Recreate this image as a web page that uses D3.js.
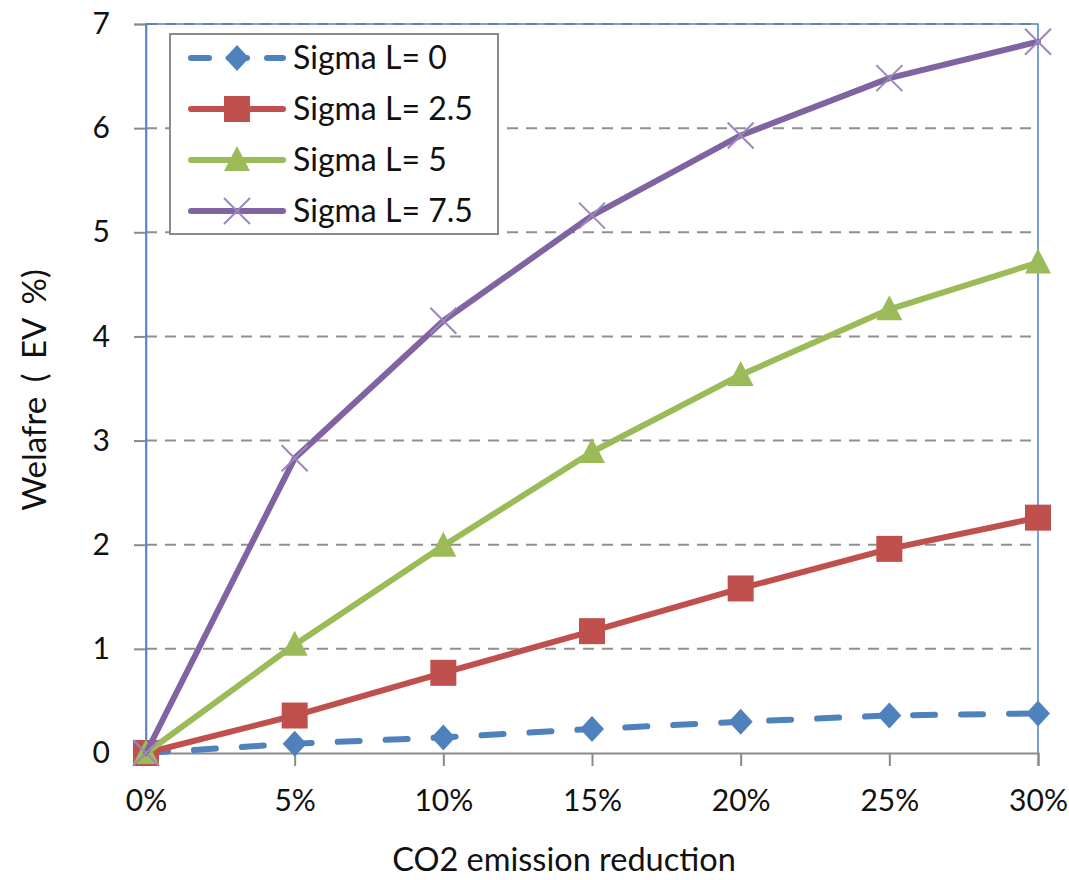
<!DOCTYPE html>
<html>
<head>
<meta charset="utf-8">
<script src="https://cdn.jsdelivr.net/npm/d3@7"></script>
<style>
  html, body { margin: 0; padding: 0; background: #fff; }
  svg { display: block; }
  text { font-family: Lato, "Noto Sans", sans-serif; fill: #111; }
</style>
</head>
<body>
<svg id="chart" width="1069" height="880"></svg>
<script>
// CO2 reduction levels on the x axis
const categories = ["0%", "5%", "10%", "15%", "20%", "25%", "30%"];
const yTicks = [0, 1, 2, 3, 4, 5, 6, 7];

// Welfare change (EV %) for each labour-supply elasticity
const sigma0   = [0, 0.09, 0.15, 0.23, 0.30, 0.36, 0.38];
const sigma2_5 = [0, 0.36, 0.77, 1.17, 1.58, 1.96, 2.26];
const sigma5   = [0, 1.04, 1.99, 2.89, 3.63, 4.26, 4.71];
const sigma7_5 = [0, 2.83, 4.15, 5.16, 5.93, 6.48, 6.83];

const seriesNames = ["Sigma L= 0", "Sigma L= 2.5", "Sigma L= 5", "Sigma L= 7.5"];

const series = [
  { name: seriesNames[0], values: sigma0,   color: "#4f81bd", marker: "diamond",  dashed: true },
  { name: seriesNames[1], values: sigma2_5, color: "#c0504d", marker: "square" },
  { name: seriesNames[2], values: sigma5,   color: "#9bbb59", marker: "triangle" },
  { name: seriesNames[3], values: sigma7_5, color: "#8064a2", marker: "cross" }
];

const svg = d3.select("#chart");
const plot = { left: 146, right: 1038, top: 24, bottom: 753 };

const x = d3.scalePoint().domain(categories).range([plot.left, plot.right]);
const y = d3.scaleLinear().domain([0, 7]).range([plot.bottom, plot.top]);

// horizontal dashed gridlines
svg.append("g")
  .selectAll("line")
  .data(yTicks.filter(d => d > 0))
  .join("line")
  .attr("x1", plot.left).attr("x2", plot.right)
  .attr("y1", d => y(d)).attr("y2", d => y(d))
  .attr("stroke", "#8f8f8f")
  .attr("stroke-width", 2)
  .attr("stroke-dasharray", "11,8");

// plot area border (left, top, right)
svg.append("path")
  .attr("d", `M${plot.left},${plot.bottom}V${plot.top}H${plot.right}V${plot.bottom}`)
  .attr("fill", "none")
  .attr("stroke", "#4f81bd")
  .attr("stroke-width", 1.5);

// y axis
const yAxis = svg.append("g")
  .attr("transform", `translate(${plot.left},0)`)
  .call(d3.axisLeft(y).tickValues(yTicks).tickFormat(d3.format("d")).tickSize(12).tickPadding(24));
yAxis.select(".domain").attr("stroke", "#4f81bd").attr("stroke-width", 1.5);
yAxis.selectAll(".tick line").attr("stroke", "#8a8a8a").attr("stroke-width", 2);
yAxis.selectAll(".tick text")
  .style("font-family", "Lato, 'Noto Sans', sans-serif")
  .style("font-size", "30px")
  .attr("fill", "#111");

// x axis
const xAxis = svg.append("g")
  .attr("transform", `translate(0,${plot.bottom})`)
  .call(d3.axisBottom(x).tickSize(13).tickPadding(24));
xAxis.select(".domain").attr("stroke", "#8a8a8a").attr("stroke-width", 2);
xAxis.selectAll(".tick line").attr("stroke", "#8a8a8a").attr("stroke-width", 2);
xAxis.selectAll(".tick text")
  .style("font-family", "Lato, 'Noto Sans', sans-serif")
  .style("font-size", "30px")
  .attr("fill", "#111");

// axis titles
svg.append("text")
  .attr("x", 564).attr("y", 871)
  .attr("text-anchor", "middle")
  .style("font-size", "32.5px")
  .text("CO2 emission reduction");

svg.append("text")
  .attr("transform", "translate(46,390) rotate(-90)")
  .attr("text-anchor", "middle")
  .style("font-size", "33px")
  .style("word-spacing", "6px")
  .text("Welafre ( EV %)");

// marker drawing
function drawMarker(g, type, color) {
  if (type === "diamond") {
    g.append("path").attr("d", "M0,-13L12,0L0,13L-12,0Z").attr("fill", color);
  } else if (type === "square") {
    g.append("rect").attr("x", -13).attr("y", -13).attr("width", 26).attr("height", 26).attr("fill", color);
  } else if (type === "triangle") {
    g.append("path").attr("d", "M0,-14L13,11L-13,11Z").attr("fill", color);
  } else if (type === "cross") {
    g.append("path").attr("d", "M-13,-13L13,13M-13,13L13,-13")
      .attr("stroke", "#9c86bb").attr("stroke-width", 2).attr("fill", "none");
  }
}

const line = d3.line()
  .x((d, i) => x(categories[i]))
  .y(d => y(d));

// series: line then markers, one series at a time
series.forEach(s => {
  const g = svg.append("g");
  g.append("path")
    .datum(s.values)
    .attr("d", line)
    .attr("fill", "none")
    .attr("stroke", s.color)
    .attr("stroke-width", 6)
    .attr("stroke-linejoin", "round")
    .attr("stroke-linecap", "round")
    .attr("stroke-dasharray", s.dashed ? "22,26" : null);
  s.values.forEach((v, i) => {
    const m = g.append("g").attr("transform", `translate(${x(categories[i])},${y(v)})`);
    drawMarker(m, s.marker, s.color);
  });
});

// legend
const legend = svg.append("g");
legend.append("rect")
  .attr("x", 170).attr("y", 34).attr("width", 328).attr("height", 200)
  .attr("fill", "#fff")
  .attr("stroke", "#8a8a8a")
  .attr("stroke-width", 2);

series.forEach((s, i) => {
  const cy = 58 + i * 51;
  const row = legend.append("g");
  row.append("line")
    .attr("x1", 191).attr("x2", 283)
    .attr("y1", cy).attr("y2", cy)
    .attr("stroke", s.color)
    .attr("stroke-width", 6)
    .attr("stroke-linecap", "round")
    .attr("stroke-dasharray", s.dashed ? "18,20" : null);
  const m = row.append("g").attr("transform", `translate(237,${cy})`);
  drawMarker(m, s.marker, s.color);
  row.append("text")
    .attr("x", 293).attr("y", cy)
    .attr("dy", "0.35em")
    .style("font-size", "32px")
    .text(s.name);
});
</script>
</body>
</html>
